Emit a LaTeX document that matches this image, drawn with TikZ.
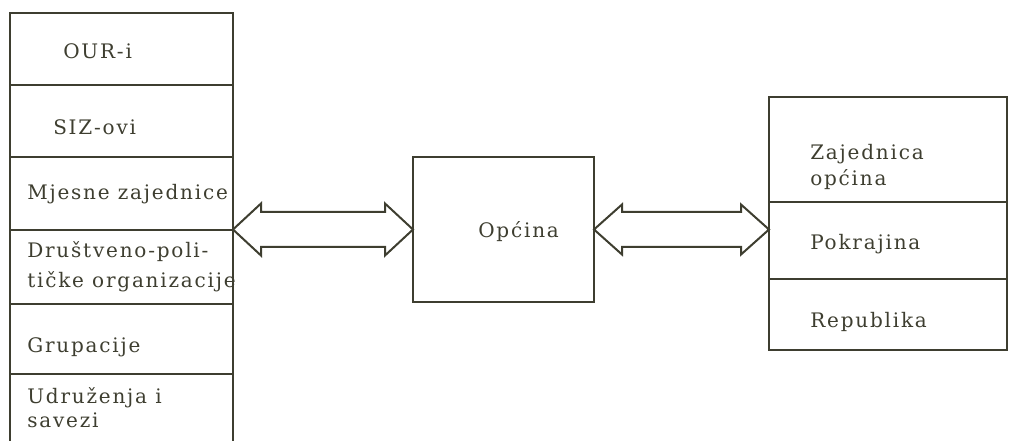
\documentclass[tikz,border=0pt]{standalone}
\usepackage{fontspec}
\newfontfamily\lblfont{DejaVu Serif}[LetterSpace=9]
\usetikzlibrary{calc}
\definecolor{ink}{RGB}{62,62,48}
\tikzset{
  row/.style={draw=ink, line width=1.5pt, inner sep=0pt, outer sep=0pt},
  lbl/.style={text=ink, inner sep=0pt, anchor=base west, align=left,
    font=\lblfont\fontsize{15}{#1}\selectfont},
  lbl/.default=18,
  widearrow/.style={draw=ink, line width=1.5pt, line join=miter}
}
\begin{document}
\begin{tikzpicture}[x=0.75pt,y=0.75pt,yscale=-1,xscale=1]
%set diagram to the page, 1009 by 441
\clip (0,0) rectangle (1009,441);

%Shape: Rectangle [left stack]
\node[row, minimum width=167.25pt, minimum height=54pt] (our) at (121.5,49) {};
\node[row, minimum width=167.25pt, minimum height=54pt] (siz) at (121.5,121) {};
\node[row, minimum width=167.25pt, minimum height=54.75pt] (mz) at (121.5,193.5) {};
\node[row, minimum width=167.25pt, minimum height=55.5pt] (dpo) at (121.5,267) {};
\node[row, minimum width=167.25pt, minimum height=52.5pt] (grp) at (121.5,339) {};
\node[row, minimum width=167.25pt, minimum height=64.5pt] (uis) at (121.5,417) {};

%Shape: Rectangle [centre]
\node[row, minimum width=135.75pt, minimum height=108.75pt] (opcina) at (503.5,229.5) {};

%Shape: Rectangle [right stack]
\node[row, minimum width=178.5pt, minimum height=78.75pt] (zo) at (888,149.5) {};
\node[row, minimum width=178.5pt, minimum height=57.75pt] (pk) at (888,240.5) {};
\node[row, minimum width=178.5pt, minimum height=53.25pt] (rep) at (888,314.5) {};

%Double arrows
\coordinate (la) at (opcina.west -| mz.east);
\coordinate (lb) at (opcina.west);
\draw[widearrow] (la) -- ($(la)+(28,-26)$) -- ($(la)+(28,-17.5)$) -- ($(lb)+(-28,-17.5)$) -- ($(lb)+(-28,-26)$) -- (lb)
  -- ($(lb)+(-28,26)$) -- ($(lb)+(-28,17.5)$) -- ($(la)+(28,17.5)$) -- ($(la)+(28,26)$) -- cycle;

\coordinate (ra) at (opcina.east);
\coordinate (rb) at (opcina.east -| pk.west);
\draw[widearrow] (ra) -- ($(ra)+(28,-25)$) -- ($(ra)+(28,-17.5)$) -- ($(rb)+(-28,-17.5)$) -- ($(rb)+(-28,-25)$) -- (rb)
  -- ($(rb)+(-28,25)$) -- ($(rb)+(-28,17.5)$) -- ($(ra)+(28,17.5)$) -- ($(ra)+(28,25)$) -- cycle;

% Text Node
\node[lbl] (t-our) at (63,59) {OUR-i};
% Text Node
\node[lbl] (t-siz) at (53,135) {SIZ-ovi};
% Text Node
\node[lbl] (t-mz) at (27,200) {Mjesne zajednice};
% Text Node
\node[lbl=23] (t-dpo) at (27,288) {Društveno-poli-\\tičke organizacije};
% Text Node
\node[lbl] (t-grp) at (27,352) {Grupacije};
% Text Node
\node[lbl=18] (t-uis) at (27,427) {Udruženja i\\savezi};
% Text Node
\node[lbl] (t-opcina) at (478,238) {Općina};
% Text Node
\node[lbl=19.5] (t-zo) at (810,186) {Zajednica\\općina};
% Text Node
\node[lbl] (t-pk) at (810,250) {Pokrajina};
% Text Node
\node[lbl] (t-rep) at (810,328) {Republika};

\end{tikzpicture}
\end{document}
